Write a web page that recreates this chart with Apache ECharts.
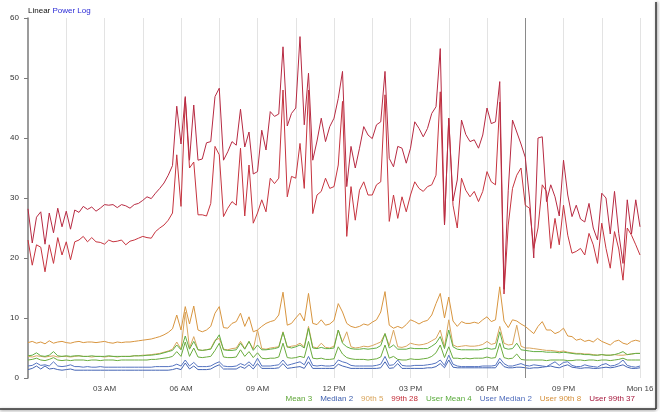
<!DOCTYPE html>
<html><head><meta charset="utf-8">
<script src="https://cdn.jsdelivr.net/npm/echarts@6/dist/echarts.min.js"></script>
<style>html,body{margin:0;padding:0;background:#fff}#c{width:660px;height:412px}</style>
</head><body><div id="c"></div>
<script>
// sampling: one value every 10 minutes from 00:00 Sun to 00:00 Mon
const stepMinutes = 10;
const seriesNames = ['Mean','Median','90th','99th','User Mean','User Median','User 90th','User 99th'];
const legendValues = [3,2,5,28,4,2,8,37];
const legendColors = ['#5ea536','#3d5eae','#d9a45a','#c22a35','#5aab3c','#4f6cbc','#d69039','#a6183c'];
const lineColors = ['#6aac3e','#4565b4','#d9a55e','#c6343f','#5fae42','#5473c0','#d8953f','#b72a42'];
const tickHours = [3,6,9,12,15,18,21,24];
const tickLabels = ['03 AM','06 AM','09 AM','12 PM','03 PM','06 PM','09 PM','Mon 16'];
const cursorHour = 19.5;

const mean = [3.0,3.1,3.3,3.0,2.9,3.1,3.4,3.0,2.9,3.0, 2.9,3.0,3.0,3.0,2.9,3.0,3.0,2.9,3.0,3.0, 3.0,2.9,3.0,3.0,3.0,3.0,3.0,3.0,3.0,3.1, 3.1,3.2,3.3,3.4,3.6,4.4,3.6,6.0,3.6,5.0, 3.5,3.4,3.5,3.6,4.6,5.8,3.5,3.4,3.4,3.5, 4.7,3.6,4.4,3.4,4.2,3.3,3.2,3.3,3.3,3.5, 5.8,3.4,3.3,3.4,3.6,3.4,6.1,3.3,3.2,3.3, 3.1,3.1,3.2,5.2,4.0,3.4,3.2,3.1,3.1,3.1, 3.0,3.1,3.2,3.5,5.5,3.3,3.6,3.1,3.0,3.0, 3.2,3.1,3.1,3.2,3.3,3.6,4.2,5.5,3.4,5.2, 3.3,3.3,3.2,3.3,3.2,3.3,3.3,3.3,3.5,3.3, 3.4,5.8,3.4,3.2,3.3,4.0,3.1,3.0,3.0,3.0, 3.0,3.0,2.9,3.0,3.0,3.0,3.0,2.9,2.9,3.0, 3.0,2.9,3.0,3.0,2.9,3.0,3.0,2.9,3.0,3.1, 3.3,3.0,3.0,3.0,3.0];
const median = [1.4,1.6,2.0,1.5,2.0,1.5,1.6,1.4,1.3,1.4, 1.5,1.3,1.3,1.3,1.3,1.3,1.3,1.3,1.3,1.3, 1.3,1.3,1.3,1.3,1.3,1.3,1.3,1.3,1.3,1.3, 1.3,1.3,1.3,1.3,1.4,1.6,1.4,2.5,1.5,2.0, 1.4,1.4,1.4,1.5,1.9,2.2,1.5,1.5,1.5,1.5, 1.9,1.6,2.2,1.5,2.4,1.6,1.6,1.6,1.6,1.7, 2.4,1.6,1.7,1.8,1.9,1.6,2.7,1.6,1.6,1.6, 1.6,1.6,1.6,2.3,2.0,1.8,1.6,1.6,1.6,1.6, 1.6,1.6,1.6,1.7,2.7,1.6,1.7,2.4,1.6,1.6, 1.6,1.6,1.6,1.6,1.7,1.7,1.9,2.4,1.7,3.0, 1.8,1.7,1.7,1.7,1.7,1.7,1.7,1.7,1.7,1.7, 1.7,2.7,1.9,1.7,1.7,1.8,1.8,1.7,1.6,1.7, 1.7,1.8,1.9,2.0,1.8,1.7,2.0,2.2,1.8,1.7, 1.6,1.7,1.7,1.6,1.6,1.7,1.8,1.7,1.8,2.0, 2.2,1.8,1.6,1.6,1.7];
const p90 = [3.6,3.5,3.7,3.6,3.5,3.6,3.7,3.5,3.6,3.6, 3.5,3.6,3.7,3.6,3.6,3.5,3.6,3.6,3.5,3.6, 3.6,3.5,3.6,3.6,3.6,3.7,3.7,3.8,3.8,3.9, 4.0,4.1,4.3,4.5,4.8,6.0,4.8,11.0,5.0,6.9, 4.7,4.6,4.7,4.9,6.3,6.6,4.8,4.7,4.9,5.0, 6.1,4.9,6.1,4.8,8.0,4.9,4.8,5.0,5.1,5.2, 7.7,5.1,5.3,5.4,5.8,5.2,8.6,5.2,5.0,5.8, 5.1,5.0,5.3,8.0,6.0,7.7,5.2,5.0,5.1,5.3, 5.2,5.4,5.7,6.0,7.4,5.4,8.0,5.2,5.1,5.3, 5.8,5.6,5.5,5.6,5.8,6.2,6.6,8.0,5.2,9.7, 5.5,5.2,5.3,5.4,5.3,5.3,5.4,5.6,6.1,5.6, 5.8,8.6,5.8,5.5,5.6,8.8,5.3,5.0,5.0,4.9, 4.8,4.7,4.6,4.6,4.5,4.4,4.5,4.3,4.2,4.1, 4.1,4.0,4.0,3.9,3.8,3.9,3.8,3.8,3.9,3.8, 3.8,3.9,4.0,4.1,4.1];
const p99 = [23.0,18.8,22.2,21.8,17.7,22.2,19.1,23.4,20.5,22.7, 19.7,22.7,23.0,23.6,22.7,23.4,22.7,22.6,22.3,23.0, 22.7,22.8,23.0,22.2,22.8,23.0,23.3,23.6,23.4,23.3, 24.4,25.0,25.5,26.3,27.5,37.2,28.6,46.6,35.0,36.0, 27.2,27.2,27.0,29.1,38.6,37.2,26.9,28.3,29.4,28.8, 38.3,27.0,35.5,25.8,27.5,29.7,27.7,33.3,32.4,33.3, 48.0,30.2,33.6,33.3,39.1,31.6,48.0,27.4,30.5,31.1, 33.3,31.6,31.9,35.5,46.1,23.6,31.9,26.3,31.3,32.7, 30.5,30.5,32.2,32.7,47.2,26.1,30.5,26.6,30.2,27.7, 30.5,32.7,31.6,31.1,31.9,32.2,33.8,47.7,25.5,43.3, 28.8,25.0,33.3,31.3,30.2,31.1,29.4,31.1,34.4,32.7, 32.2,46.0,14.0,25.5,31.6,33.8,35.0,28.8,28.3,21.6, 25.0,32.2,31.1,21.6,26.6,22.2,28.8,23.8,20.8,21.1, 21.6,20.5,24.1,22.2,19.1,25.8,21.6,18.3,24.4,21.5, 16.3,25.0,23.8,22.2,20.5];
const userMean = [3.7,3.8,4.2,3.7,3.6,3.8,4.4,3.7,3.6,3.7, 3.6,3.7,3.7,3.6,3.6,3.7,3.6,3.6,3.6,3.7, 3.6,3.6,3.6,3.6,3.6,3.7,3.7,3.7,3.8,3.8, 3.9,4.0,4.2,4.4,4.6,5.5,4.7,7.0,4.8,6.1, 4.7,4.6,4.7,4.8,6.1,7.2,4.7,4.6,4.6,4.7, 5.8,4.8,6.1,4.6,5.5,4.7,4.7,4.8,4.9,5.1, 7.6,5.2,5.0,5.2,5.5,5.0,8.3,5.0,4.9,5.1, 4.9,4.9,5.0,8.0,5.8,5.2,4.9,4.8,4.8,4.9, 4.8,4.9,5.0,5.4,7.4,5.0,5.5,4.8,4.8,4.8, 5.0,4.9,4.9,4.9,4.9,5.3,5.8,6.9,4.9,8.0, 5.2,4.8,4.7,4.7,4.7,4.7,4.7,4.8,5.0,4.8, 4.9,7.7,5.0,4.8,4.9,5.8,4.7,4.6,4.5,4.4, 4.4,4.4,4.3,4.3,4.3,4.2,4.3,4.2,4.1,4.0, 4.0,3.9,3.9,3.8,3.8,3.9,3.8,3.8,3.9,4.1, 4.4,3.9,4.0,4.1,4.1];
const userMedian = [2.0,2.1,2.5,2.1,2.2,2.0,2.7,2.0,1.9,2.0, 2.2,1.9,1.9,1.8,1.9,1.8,1.8,1.9,1.8,1.8, 1.8,1.8,1.8,1.8,1.8,1.8,1.8,1.8,1.8,1.8, 1.9,1.9,1.9,1.9,2.0,2.3,2.0,3.0,2.0,2.6, 1.9,1.9,1.9,2.0,2.4,2.7,2.0,1.9,1.9,2.0, 2.4,2.1,2.7,2.0,3.3,2.0,2.0,2.0,2.1,2.2, 3.0,2.1,2.3,2.5,2.7,2.2,3.6,2.1,2.0,2.1, 2.0,2.0,2.1,3.0,2.7,2.5,2.1,2.0,2.0,2.0, 2.0,2.0,2.1,2.3,3.6,2.1,2.2,3.0,2.1,2.0, 2.0,2.1,2.1,2.1,2.2,2.3,2.5,3.0,2.1,3.8, 2.3,2.0,1.9,1.9,1.9,1.9,1.9,2.0,2.0,2.0, 2.1,3.3,2.4,2.0,2.0,2.2,2.4,2.1,2.0,2.2, 2.1,2.0,1.9,2.3,2.7,2.1,2.6,2.7,2.1,1.9, 1.9,2.2,2.0,1.9,1.8,2.2,2.4,2.0,2.1,2.4, 3.0,2.1,1.9,1.8,2.0];
const userP90 = [5.9,6.1,5.8,6.0,5.7,6.2,5.8,6.0,6.1,5.9, 5.8,6.0,6.1,5.9,6.0,6.0,5.9,6.0,6.1,5.9, 5.8,6.0,5.9,6.0,6.0,6.1,6.2,6.3,6.4,6.5, 6.7,6.9,7.2,7.6,8.2,10.5,8.0,11.9,9.0,12.0, 8.0,7.7,8.0,8.6,10.8,11.9,8.4,8.3,9.1,9.4, 10.8,8.6,10.2,7.7,8.0,8.6,9.1,9.4,9.6,10.5, 14.3,8.8,9.1,10.0,10.8,9.5,14.1,9.1,8.9,9.7, 8.8,9.0,9.6,12.4,11.0,9.1,8.6,8.4,8.6,9.0, 8.8,9.3,9.7,11.0,14.4,8.8,8.3,8.6,8.3,8.9, 9.7,9.4,9.0,9.4,9.6,10.5,12.4,14.1,10.0,13.5, 9.5,8.6,9.4,9.1,9.1,9.3,9.1,9.7,10.2,9.4, 9.7,15.2,9.5,8.4,9.7,9.5,9.0,8.6,8.0,7.4, 8.6,9.4,8.0,8.0,7.4,7.7,8.3,7.0,6.9,6.3, 6.5,6.1,6.3,6.0,6.6,6.1,5.8,5.5,6.1,6.3, 5.8,5.6,6.1,6.3,6.1];
const userP99 = [28.2,22.5,26.8,27.7,22.3,27.5,24.2,28.3,25.2,27.8, 24.8,28.0,27.6,28.6,28.1,28.5,27.8,28.3,28.9,28.8, 28.9,28.4,28.9,28.7,28.3,28.9,29.1,29.6,30.2,29.9, 30.8,31.6,32.5,33.8,35.4,45.3,39.0,46.9,36.3,45.5, 36.3,36.5,39.2,39.4,46.9,48.3,36.3,37.7,39.4,38.8, 44.8,38.5,41.0,34.0,34.4,41.3,38.0,44.4,43.6,44.0, 55.2,42.0,44.1,45.0,56.9,42.2,50.8,36.3,39.5,43.3, 39.4,41.9,43.3,46.6,51.1,31.9,38.6,35.0,38.3,41.9, 40.5,39.9,42.2,42.7,51.1,36.6,35.2,38.6,38.3,35.8, 38.3,42.7,41.6,40.2,41.6,44.1,45.2,54.9,25.5,43.3, 29.5,33.0,43.0,40.6,39.4,39.7,38.3,40.5,45.0,42.4, 42.7,49.4,14.8,31.3,43.0,41.0,39.0,36.8,30.0,20.0, 40.0,40.2,29.4,32.2,30.2,27.0,36.3,30.5,26.9,28.8, 26.5,26.0,29.1,25.0,23.0,30.8,30.0,24.0,31.1,24.1, 19.1,29.7,24.0,29.7,25.2];

const seriesValues = [mean, median, p90, p99, userMean, userMedian, userP90, userP99];

function toPairs(arr){ return arr.map((v,i)=>[i*stepMinutes/60, v]); }

const chart = echarts.init(document.getElementById('c'), null, {renderer:'canvas'});
const font = 'Liberation Sans, Arial, Helvetica, sans-serif';

const series = seriesNames.map((name, k) => {
  const s = {
    name, type:'line', data: toPairs(seriesValues[k]),
    showSymbol:false, symbol:'none', animation:false,
    lineStyle:{width:1, color: lineColors[k]}, itemStyle:{color: lineColors[k]},
    z: 2 + k
  };
  if (k === 0) {
    s.markLine = { silent:true, symbol:['none','none'], label:{show:false},
      lineStyle:{color:'#8a8a8a', type:'solid', width:1},
      data:[{xAxis: cursorHour}] };
  }
  return s;
});

chart.setOption({
  animation:false,
  textStyle:{fontFamily:font},
  title:{
    left:28, top:7, padding:0,
    text:'{a|Linear} {b|Power} {b|Log}',
    textStyle:{fontWeight:'normal', fontSize:8,
      rich:{a:{color:'#111',fontSize:8,fontWeight:'normal',fontFamily:font}, b:{color:'#2b2bd6',fontSize:8,fontWeight:'normal',fontFamily:font}}}
  },
  grid:{left:28, right:20, top:18, bottom:34, containLabel:false},
  xAxis:{
    type:'value', min:0, max:24, interval:1.5,
    axisLine:{show:false}, axisTick:{show:false},
    splitLine:{show:true, showMinLine:false, lineStyle:{color:'#e3e3e3', width:1}},
    axisLabel:{fontSize:8, color:'#444', margin:7, fontFamily:font, showMaxLabel:true,
      formatter:(v)=>{ const j = tickHours.indexOf(Math.round(v*10)/10); return j>=0 ? tickLabels[j] : ''; }}
  },
  yAxis:{
    type:'value', min:0, max:60, interval:10, offset:5,
    axisLine:{show:true, lineStyle:{color:'#7a7a7a', width:1.5}},
    axisTick:{show:true, length:4, lineStyle:{color:'#7a7a7a'}},
    splitLine:{show:false},
    axisLabel:{fontSize:8, color:'#333', margin:4, fontFamily:font}
  },
  legend:{
    right:20, bottom:4, itemWidth:0, itemHeight:0, itemGap:3, icon:'rect',
    selectedMode:false,
    data: seriesNames.map((n,k)=>({name:n, textStyle:{color:legendColors[k], fontSize:8, fontFamily:font}})),
    formatter:(name)=> name + ' ' + legendValues[seriesNames.indexOf(name)]
  },
  graphic:[
    {type:'line', shape:{x1:656, y1:2, x2:656, y2:409}, style:{stroke:'#333', lineWidth:1.5, shadowBlur:3, shadowColor:'rgba(0,0,0,0.5)', shadowOffsetX:1}},
    {type:'line', shape:{x1:0, y1:409, x2:656, y2:409}, style:{stroke:'#333', lineWidth:1.5, shadowBlur:3, shadowColor:'rgba(0,0,0,0.5)', shadowOffsetY:1}}
  ],
  series
});
</script></body></html>
